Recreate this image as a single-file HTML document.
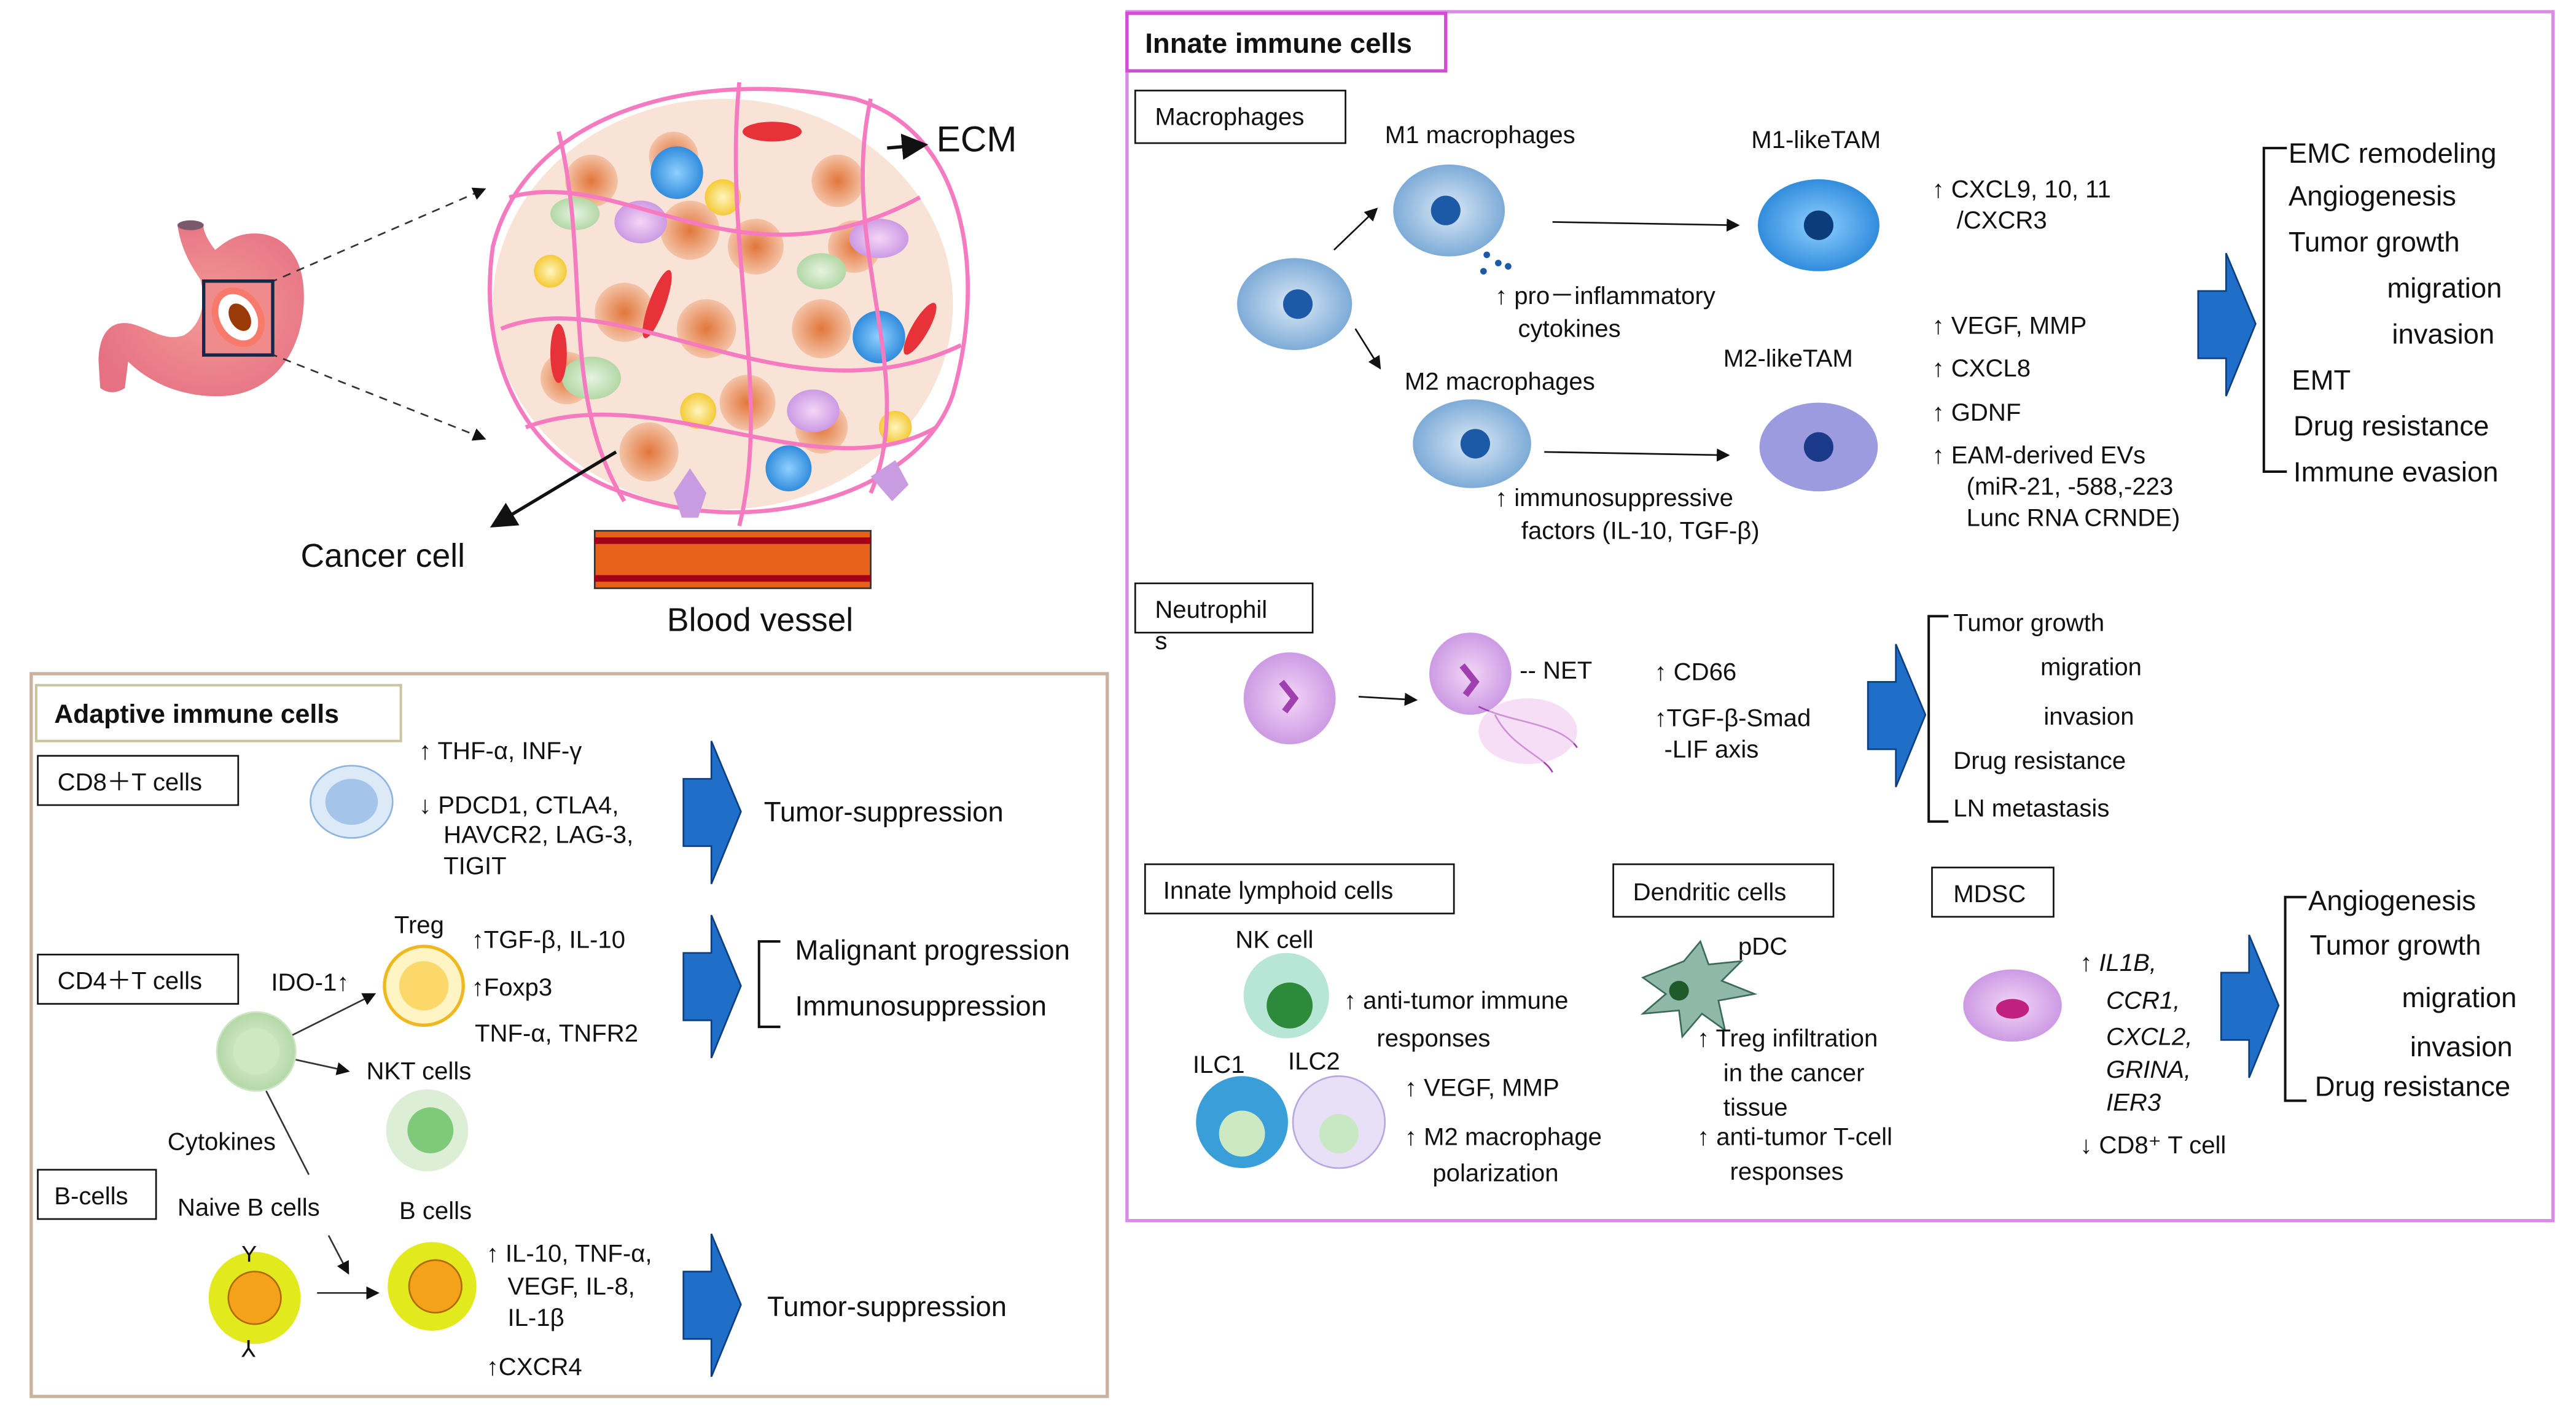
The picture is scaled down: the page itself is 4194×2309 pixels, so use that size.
<!DOCTYPE html>
<html><head><meta charset="utf-8"><style>
html,body{margin:0;padding:0;background:#fff}
svg{display:block}
text{font-family:"Liberation Sans",Arial,sans-serif;fill:#111}
</style></head><body>
<svg width="4194" height="2309" viewBox="0 0 1568 863" xmlns="http://www.w3.org/2000/svg">
<defs>
<radialGradient id="bc" cx="50%" cy="50%" r="60%"><stop offset="0" stop-color="#dbe9f7"/><stop offset="1" stop-color="#6b9fd1"/></radialGradient>
<radialGradient id="bb" cx="50%" cy="50%" r="60%"><stop offset="0" stop-color="#8fd0ff"/><stop offset="1" stop-color="#1f7fd6"/></radialGradient>
<radialGradient id="pp" cx="50%" cy="50%" r="60%"><stop offset="0" stop-color="#f3d6f7"/><stop offset="1" stop-color="#c58ee0"/></radialGradient>
<radialGradient id="gr" cx="50%" cy="50%" r="60%"><stop offset="0" stop-color="#e6f3e1"/><stop offset="1" stop-color="#a9d29a"/></radialGradient>
<radialGradient id="yl" cx="50%" cy="50%" r="60%"><stop offset="0" stop-color="#fff5c0"/><stop offset="1" stop-color="#f2c21b"/></radialGradient>
<radialGradient id="tm" cx="50%" cy="50%" r="60%"><stop offset="0" stop-color="#e2763a"/><stop offset="1" stop-color="#f7d2bd"/></radialGradient>
<radialGradient id="st" cx="55%" cy="50%" r="60%"><stop offset="0" stop-color="#f49a96"/><stop offset="1" stop-color="#e57183"/></radialGradient>
<marker id="ar" markerWidth="8" markerHeight="8" refX="7" refY="4" orient="auto"><path d="M0,0 L8,4 L0,8 z" fill="#111"/></marker>
<g id="chev"><path d="M0,23 L17,23 L17,0 L35,43 L17,87 L17,64 L0,64 Z" fill="#1f6fc9" stroke="#0d3f80" stroke-width="1"/></g>
</defs>

<!-- Stomach -->
<path d="M108,137 C110,150 115,160 122,170 C126,185 122,198 112,204 C100,208 92,200 80,197 C66,194 60,205 60,220 L61,236 C66,240 72,239 76,236 L78,220 C90,232 110,242 135,241 C165,240 185,215 185,180 C185,155 172,142 155,142 C143,142 136,148 131,152 C127,147 123,140 124,136 Z" fill="url(#st)"/>
<ellipse cx="116" cy="137" rx="8" ry="3" fill="#7a5a6a"/>
<g>
<line x1="164" y1="172" x2="295" y2="115" stroke="#333" stroke-dasharray="5,4" marker-end="url(#ar)"/>
<line x1="164" y1="215" x2="295" y2="267" stroke="#333" stroke-dasharray="5,4" marker-end="url(#ar)"/>
<rect x="124" y="171" width="42" height="45" fill="#ef8b8b" stroke="#14284a" stroke-width="2"/>
<ellipse cx="145" cy="193" rx="13" ry="17" fill="#fff" stroke="#f77a6a" stroke-width="4" transform="rotate(-30 145 193)"/>
<ellipse cx="146" cy="193" rx="6" ry="9" fill="#9a3a08" transform="rotate(-30 146 193)"/>

<!-- Tumor -->
<ellipse cx="440" cy="185" rx="140" ry="125" fill="#f9e3d6"/>
<g fill="url(#tm)">
<circle cx="360" cy="110" r="16"/><circle cx="420" cy="140" r="18"/><circle cx="460" cy="150" r="17"/><circle cx="380" cy="190" r="18"/><circle cx="430" cy="200" r="18"/><circle cx="500" cy="200" r="18"/><circle cx="345" cy="230" r="16"/><circle cx="455" cy="245" r="17"/><circle cx="395" cy="275" r="18"/><circle cx="520" cy="150" r="16"/><circle cx="500" cy="260" r="16"/><circle cx="410" cy="95" r="15"/><circle cx="510" cy="110" r="16"/>
</g>
<g fill="url(#bb)"><circle cx="412" cy="105" r="16"/><circle cx="535" cy="205" r="16"/><circle cx="480" cy="285" r="14"/></g>
<g fill="url(#pp)"><ellipse cx="390" cy="135" rx="16" ry="13"/><ellipse cx="535" cy="145" rx="18" ry="12"/><ellipse cx="495" cy="250" rx="16" ry="13"/></g>
<g fill="url(#yl)"><circle cx="440" cy="120" r="11"/><circle cx="335" cy="165" r="10"/><circle cx="425" cy="250" r="11"/><circle cx="545" cy="260" r="10"/></g>
<g fill="url(#gr)"><ellipse cx="360" cy="230" rx="18" ry="13"/><ellipse cx="500" cy="165" rx="15" ry="11"/><ellipse cx="350" cy="130" rx="15" ry="10"/></g>
<g fill="#e8323a"><ellipse cx="400" cy="185" rx="5" ry="22" transform="rotate(20 400 185)"/><ellipse cx="470" cy="80" rx="18" ry="6"/><ellipse cx="340" cy="215" rx="5" ry="18"/><ellipse cx="560" cy="200" rx="5" ry="18" transform="rotate(30 560 200)"/></g>
<g fill="none" stroke="#f57ac0" stroke-width="2.5">
<path d="M300,150 C320,70 420,40 520,60 C590,80 600,170 580,240 C560,300 460,330 380,300 C320,280 290,220 300,150 Z"/>
<path d="M310,120 C380,100 450,180 560,120"/><path d="M305,200 C380,170 480,260 585,210"/><path d="M340,80 C360,160 340,240 380,305"/><path d="M450,50 C440,150 470,240 450,320"/><path d="M530,60 C510,150 560,230 530,300"/><path d="M320,260 C400,230 500,300 570,260"/>
</g>
<g fill="#c99be0"><path d="M410,300 l10,-15 l10,15 l-5,15 l-10,0 z"/><path d="M530,290 l15,-10 l8,15 l-10,10 z"/></g>
<line x1="540" y1="90" x2="563" y2="88" stroke="#111" stroke-width="2" marker-end="url(#ar)"/>
<text x="570" y="92" font-size="22">ECM</text>
<line x1="375" y1="275" x2="300" y2="320" stroke="#111" stroke-width="2" marker-end="url(#ar)"/>
<text x="183" y="345" font-size="20">Cancer cell</text>
<rect x="362" y="323" width="168" height="35" fill="#e8611a" stroke="#333"/>
<rect x="362" y="327" width="168" height="4" fill="#a3001a"/>
<rect x="362" y="350" width="168" height="4" fill="#a3001a"/>
<text x="406" y="384" font-size="20">Blood vessel</text>
</g>

<!-- Adaptive box -->
<rect x="19" y="410" width="655" height="440" fill="none" stroke="#c9b39f" stroke-width="2"/>
<rect x="22" y="417" width="222" height="34" fill="#fff" stroke="#c9c49a" stroke-width="1.5"/>
<text x="33" y="440" font-size="16" font-weight="bold">Adaptive immune cells</text>
<g font-size="15">
<rect x="23" y="460" width="122" height="30" fill="#fff" stroke="#111"/><text x="35" y="481">CD8＋T cells</text>
<ellipse cx="214" cy="488" rx="25" ry="22" fill="#dceaf8" stroke="#8fb4de"/><ellipse cx="214" cy="488" rx="16" ry="14" fill="#a5c4ea"/>
<text x="255" y="462">↑ THF-α, INF-γ</text>
<text x="255" y="495">↓ PDCD1, CTLA4,</text><text x="270" y="513">HAVCR2, LAG-3,</text><text x="270" y="532">TIGIT</text>
<use href="#chev" x="416" y="451"/>
<text x="465" y="500" font-size="17">Tumor-suppression</text>

<rect x="23" y="581" width="122" height="30" fill="#fff" stroke="#111"/><text x="35" y="602">CD4＋T cells</text>
<text x="240" y="568">Treg</text>
<circle cx="258" cy="600" r="24" fill="#fff4c4" stroke="#f0b820" stroke-width="2"/><circle cx="258" cy="600" r="15" fill="#fcd86a"/>
<text x="165" y="603">IDO-1↑</text>
<circle cx="156" cy="640" r="24" fill="url(#gr)" stroke="#cde5c4"/><circle cx="156" cy="640" r="14" fill="#cde8c3"/>
<line x1="178" y1="630" x2="228" y2="605" stroke="#333" marker-end="url(#ar)"/>
<line x1="180" y1="645" x2="212" y2="652" stroke="#333" marker-end="url(#ar)"/>
<text x="223" y="657">NKT cells</text>
<circle cx="260" cy="688" r="25" fill="#dcefd6"/><circle cx="262" cy="688" r="14" fill="#7fc97a"/>
<text x="287" y="577">↑TGF-β, IL-10</text><text x="287" y="606">↑Foxp3</text><text x="289" y="634">TNF-α, TNFR2</text>
<use href="#chev" x="416" y="557"/>
<path d="M475,573 L462,573 L462,625 L475,625" fill="none" stroke="#111" stroke-width="1.5"/>
<text x="484" y="584" font-size="17">Malignant progression</text>
<text x="484" y="618" font-size="17">Immunosuppression</text>
<line x1="162" y1="664" x2="188" y2="715" stroke="#333"/>
<text x="102" y="700">Cytokines</text>
<rect x="23" y="712" width="72" height="30" fill="#fff" stroke="#111"/><text x="33" y="733" font-family="Liberation Serif">B-cells</text>
<text x="108" y="740">Naive B cells</text><text x="243" y="742">B cells</text>
<circle cx="155" cy="790" r="28" fill="#e2ea1e"/><circle cx="155" cy="790" r="16" fill="#f5a21b" stroke="#b06a00"/>
<text x="147" y="768" font-size="14">Y</text><text x="147" y="826" font-size="14">⅄</text>
<line x1="193" y1="787" x2="230" y2="787" stroke="#333" marker-end="url(#ar)"/>
<line x1="200" y1="752" x2="212" y2="775" stroke="#333" marker-end="url(#ar)"/>
<circle cx="263" cy="783" r="27" fill="#e2ea1e"/><circle cx="265" cy="783" r="16" fill="#f5a21b" stroke="#b06a00"/>
<text x="296" y="768">↑ IL-10, TNF-α,</text><text x="309" y="788">VEGF, IL-8,</text><text x="309" y="807">IL-1β</text>
<text x="296" y="837">↑CXCR4</text>
<use href="#chev" x="416" y="751"/>
<text x="467" y="801" font-size="17">Tumor-suppression</text>
</g>

<!-- Innate box -->
<rect x="686" y="7" width="868" height="736" fill="none" stroke="#d98ce6" stroke-width="2"/>
<rect x="686" y="8" width="194" height="35" fill="#fff" stroke="#d64ad8" stroke-width="2"/>
<text x="697" y="32" font-size="17" font-weight="bold">Innate immune cells</text>
<g font-size="15">
<rect x="691" y="55" width="128" height="32" fill="#fff" stroke="#111"/><text x="703" y="76">Macrophages</text>
<ellipse cx="788" cy="185" rx="35" ry="28" fill="url(#bc)"/><circle cx="790" cy="185" r="9" fill="#1c5aa8"/>
<line x1="812" y1="152" x2="838" y2="127" stroke="#111" marker-end="url(#ar)"/>
<line x1="825" y1="200" x2="840" y2="224" stroke="#111" marker-end="url(#ar)"/>
<text x="843" y="87">M1 macrophages</text>
<ellipse cx="882" cy="128" rx="34" ry="28" fill="url(#bc)"/><circle cx="880" cy="128" r="9" fill="#1c5aa8"/>
<g fill="#1c5aa8"><circle cx="905" cy="155" r="2"/><circle cx="912" cy="160" r="2"/><circle cx="903" cy="165" r="2"/><circle cx="918" cy="162" r="2"/></g>
<line x1="945" y1="135" x2="1058" y2="137" stroke="#111" marker-end="url(#ar)"/>
<text x="1066" y="90">M1-likeTAM</text>
<ellipse cx="1107" cy="137" rx="37" ry="28" fill="url(#bb)"/><circle cx="1107" cy="137" r="9" fill="#0b3d7a"/>
<text x="910" y="185">↑ pro－inflammatory</text><text x="924" y="205">cytokines</text>
<text x="855" y="237">M2 macrophages</text>
<ellipse cx="896" cy="270" rx="36" ry="27" fill="url(#bc)"/><circle cx="898" cy="270" r="9" fill="#1c5aa8"/>
<line x1="940" y1="275" x2="1052" y2="277" stroke="#111" marker-end="url(#ar)"/>
<text x="1049" y="223">M2-likeTAM</text>
<ellipse cx="1107" cy="272" rx="36" ry="27" fill="#9c9be0"/><circle cx="1107" cy="272" r="9" fill="#1c3a8a"/>
<text x="910" y="308">↑ immunosuppressive</text><text x="926" y="328">factors (IL-10, TGF-β)</text>
<text x="1176" y="120">↑ CXCL9, 10, 11</text><text x="1191" y="139">/CXCR3</text>
<text x="1176" y="203">↑ VEGF, MMP</text><text x="1176" y="229">↑ CXCL8</text><text x="1176" y="256">↑ GDNF</text>
<text x="1176" y="282">↑ EAM-derived EVs</text><text x="1197" y="301">(miR-21, -588,-223</text><text x="1197" y="320">Lunc RNA CRNDE)</text>
<use href="#chev" x="1338" y="154"/>
<path d="M1392,90 L1378,90 L1378,287 L1392,287" fill="none" stroke="#111" stroke-width="1.5"/>
<g font-size="17"><text x="1393" y="99">EMC remodeling</text><text x="1393" y="125">Angiogenesis</text><text x="1393" y="153">Tumor growth</text><text x="1453" y="181">migration</text><text x="1456" y="209">invasion</text><text x="1395" y="237">EMT</text><text x="1396" y="265">Drug resistance</text><text x="1396" y="293">Immune evasion</text></g>

<rect x="691" y="355" width="108" height="30" fill="#fff" stroke="#111"/><text x="703" y="376">Neutrophil</text><text x="703" y="395">s</text>
<circle cx="785" cy="425" r="28" fill="url(#pp)"/><path d="M780,415 l8,10 l-6,8" stroke="#a040b0" stroke-width="4" fill="none"/>
<line x1="827" y1="424" x2="862" y2="426" stroke="#111" marker-end="url(#ar)"/>
<circle cx="895" cy="410" r="25" fill="url(#pp)"/><path d="M890,405 l8,10 l-6,8" stroke="#a040b0" stroke-width="4" fill="none"/>
<path d="M900,430 C920,440 950,440 960,455 M910,435 C920,455 940,460 945,470" stroke="#a040b0" fill="none"/>
<ellipse cx="930" cy="445" rx="30" ry="20" fill="#f0c8f0" opacity="0.6"/>
<text x="925" y="413">-- NET</text>
<text x="1007" y="414">↑ CD66</text><text x="1007" y="442">↑TGF-β-Smad</text><text x="1013" y="461">-LIF axis</text>
<use href="#chev" x="1137" y="392"/>
<path d="M1186,375 L1174,375 L1174,500 L1186,500" fill="none" stroke="#111" stroke-width="1.5"/>
<text x="1189" y="384">Tumor growth</text><text x="1242" y="411">migration</text><text x="1244" y="441">invasion</text><text x="1189" y="468">Drug resistance</text><text x="1189" y="497">LN metastasis</text>

<rect x="697" y="526" width="188" height="30" fill="#fff" stroke="#111"/><text x="708" y="547">Innate lymphoid cells</text>
<text x="752" y="577">NK cell</text>
<circle cx="783" cy="606" r="26" fill="#b8e6d6"/><circle cx="785" cy="612" r="14" fill="#2d8a3a"/>
<text x="818" y="614">↑ anti-tumor immune</text><text x="838" y="637">responses</text>
<text x="726" y="653">ILC1</text><text x="784" y="651">ILC2</text>
<circle cx="756" cy="683" r="28" fill="#3a9fd8"/><circle cx="756" cy="690" r="14" fill="#cde9c4"/>
<circle cx="815" cy="683" r="28" fill="#e8e0f7" stroke="#b9a8e0"/><circle cx="815" cy="690" r="12" fill="#c8e8c4"/>
<text x="855" y="667">↑ VEGF, MMP</text><text x="855" y="697">↑ M2 macrophage</text><text x="872" y="719">polarization</text>
<rect x="982" y="526" width="134" height="32" fill="#fff" stroke="#111"/><text x="994" y="548">Dendritic cells</text>
<text x="1058" y="581">pDC</text>
<path d="M1025,585 l10,-12 l5,14 l20,-2 l-12,12 l20,8 l-22,4 l4,18 l-14,-10 l-12,14 l-2,-16 l-22,2 l14,-12 l-14,-10 z" fill="#8fb8a8" stroke="#3a6a5a"/>
<circle cx="1022" cy="603" r="6" fill="#1e5a2a"/>
<text x="1033" y="637">↑ Treg infiltration</text><text x="1049" y="658">in the cancer</text><text x="1049" y="679">tissue</text>
<text x="1033" y="697">↑ anti-tumor T-cell</text><text x="1053" y="718">responses</text>
<rect x="1176" y="528" width="74" height="30" fill="#fff" stroke="#111"/><text x="1189" y="549">MDSC</text>
<ellipse cx="1225" cy="612" rx="30" ry="22" fill="url(#pp)"/><ellipse cx="1225" cy="614" rx="10" ry="6" fill="#c02080"/>
<g font-style="italic"><text x="1266" y="591">↑ IL1B,</text><text x="1282" y="614">CCR1,</text><text x="1282" y="636">CXCL2,</text><text x="1282" y="656">GRINA,</text><text x="1282" y="676">IER3</text></g>
<text x="1266" y="702">↓ CD8⁺ T cell</text>
<use href="#chev" x="1352" y="569"/>
<path d="M1404,546 L1391,546 L1391,670 L1404,670" fill="none" stroke="#111" stroke-width="1.5"/>
<g font-size="17"><text x="1405" y="554">Angiogenesis</text><text x="1406" y="581">Tumor growth</text><text x="1462" y="613">migration</text><text x="1467" y="643">invasion</text><text x="1409" y="667">Drug resistance</text></g>
</g>
</svg>
</body></html>
